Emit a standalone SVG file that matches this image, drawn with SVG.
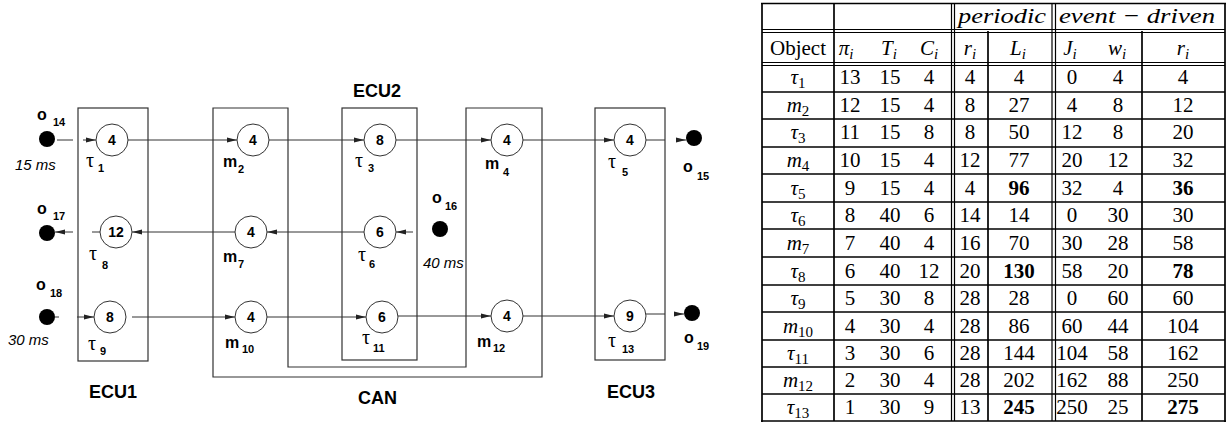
<svg xmlns="http://www.w3.org/2000/svg" width="1228" height="425" viewBox="0 0 1228 425">
<style>
.box{fill:none;stroke:#333;stroke-width:1.2}
.nd circle{fill:#fff;stroke:#333;stroke-width:1}
.num{font:bold 14px "Liberation Sans",Arial,sans-serif;text-anchor:middle}
.lbl{font:bold 16px "Liberation Sans",Arial,sans-serif}
.tau{font:20px "Liberation Serif","DejaVu Serif",serif;font-weight:normal}
.sub{font:bold 11px "Liberation Sans",Arial,sans-serif}
.dot{fill:#000}
.ms{font:italic 15px "Liberation Sans",Arial,sans-serif}
.ecu{font:bold 18px "Liberation Sans",Arial,sans-serif}
.conn line{stroke:#333;stroke-width:1}
.t{font:21px "Liberation Serif","Times New Roman",serif;text-anchor:middle}
.i{font-style:italic}
.s{font-size:15px}
.b{font-weight:bold}
.tl{stroke:#000;stroke-width:1.7}
.td{stroke:#000;stroke-width:1.2}
</style>
<defs>
<marker id="ah" markerUnits="userSpaceOnUse" markerWidth="10" markerHeight="6" refX="10" refY="3" orient="auto">
<path d="M0,0.5 L10,3 L0,5.5 z" fill="#222"/>
</marker>
</defs>
<rect width="1228" height="425" fill="#fff"/>

<!-- boxes -->
<g id="ecu1"><rect class="box" x="78" y="108" width="70" height="253"/><text class="ecu" x="89" y="398">ECU1</text></g>
<g id="can"><path class="box" d="M213,108 H288 V367 H466 V108 H542 V377 H213 Z"/><text class="ecu" x="358" y="404">CAN</text></g>
<g id="ecu2"><rect class="box" x="342" y="108" width="75" height="252"/><text class="ecu" x="353" y="97">ECU2</text></g>
<g id="ecu3"><rect class="box" x="595" y="108" width="70" height="252"/><text class="ecu" x="607" y="398">ECU3</text></g>

<!-- connectors -->
<g id="connectors" class="conn">
<line x1="57" y1="140" x2="73" y2="140"/>
<line x1="83" y1="140" x2="96" y2="140" marker-end="url(#ah)"/>
<line x1="128" y1="140" x2="237" y2="140" marker-end="url(#ah)"/>
<line x1="269" y1="140" x2="364" y2="140" marker-end="url(#ah)"/>
<line x1="396" y1="140" x2="491" y2="140" marker-end="url(#ah)"/>
<line x1="523" y1="140" x2="614" y2="140" marker-end="url(#ah)"/>
<line x1="646" y1="140" x2="665" y2="140"/>
<line x1="676" y1="140" x2="686" y2="140" marker-end="url(#ah)"/>

<line x1="413" y1="232" x2="396" y2="232" marker-end="url(#ah)"/>
<line x1="364" y1="232" x2="267" y2="232" marker-end="url(#ah)"/>
<line x1="235" y1="232" x2="132" y2="232" marker-end="url(#ah)"/>
<line x1="92" y1="232" x2="100" y2="232"/>
<line x1="73" y1="232" x2="55" y2="232" marker-end="url(#ah)"/>

<line x1="55" y1="317" x2="59" y2="317"/>
<line x1="77" y1="317" x2="94" y2="317" marker-end="url(#ah)"/>
<line x1="132" y1="317" x2="235" y2="317" marker-end="url(#ah)"/>
<line x1="267" y1="317" x2="366" y2="317" marker-end="url(#ah)"/>
<line x1="398" y1="316" x2="491" y2="316" marker-end="url(#ah)"/>
<line x1="523" y1="316" x2="614" y2="316" marker-end="url(#ah)"/>
<line x1="646" y1="314" x2="665" y2="314"/>
<line x1="674" y1="314" x2="684" y2="314" marker-end="url(#ah)"/>
</g>

<!-- task / message nodes -->
<g id="tau1" class="nd"><circle cx="112" cy="140" r="16"/><text class="num" x="112" y="145">4</text><text x="86" y="167"><tspan class="tau">τ</tspan><tspan class="sub" x="98" y="172">1</tspan></text></g>
<g id="m2" class="nd"><circle cx="253" cy="140" r="16"/><text class="num" x="253" y="145">4</text><text x="223" y="167"><tspan class="lbl">m</tspan><tspan class="sub" x="238" y="173">2</tspan></text></g>
<g id="tau3" class="nd"><circle cx="380" cy="140" r="16"/><text class="num" x="380" y="145">8</text><text x="355" y="167"><tspan class="tau">τ</tspan><tspan class="sub" x="368" y="172">3</tspan></text></g>
<g id="m4" class="nd"><circle cx="507" cy="140" r="16"/><text class="num" x="507" y="145">4</text><text x="485" y="169"><tspan class="lbl">m</tspan><tspan class="sub" x="503" y="176">4</tspan></text></g>
<g id="tau5" class="nd"><circle cx="630" cy="140" r="16"/><text class="num" x="630" y="145">4</text><text x="608" y="168"><tspan class="tau">τ</tspan><tspan class="sub" x="622" y="176">5</tspan></text></g>

<g id="tau8" class="nd"><circle cx="116" cy="232" r="16"/><text class="num" x="116" y="237">12</text><text x="89" y="260"><tspan class="tau">τ</tspan><tspan class="sub" x="102" y="269">8</tspan></text></g>
<g id="m7" class="nd"><circle cx="251" cy="232" r="16"/><text class="num" x="251" y="237">4</text><text x="223" y="262"><tspan class="lbl">m</tspan><tspan class="sub" x="238" y="268">7</tspan></text></g>
<g id="tau6" class="nd"><circle cx="380" cy="232" r="16"/><text class="num" x="380" y="237">6</text><text x="358" y="261"><tspan class="tau">τ</tspan><tspan class="sub" x="369" y="268">6</tspan></text></g>

<g id="tau9" class="nd"><circle cx="110" cy="317" r="16"/><text class="num" x="110" y="322">8</text><text x="88" y="350"><tspan class="tau">τ</tspan><tspan class="sub" x="100" y="355">9</tspan></text></g>
<g id="m10" class="nd"><circle cx="251" cy="317" r="16"/><text class="num" x="251" y="322">4</text><text x="225" y="348"><tspan class="lbl">m</tspan><tspan class="sub" x="242" y="353">10</tspan></text></g>
<g id="tau11" class="nd"><circle cx="382" cy="317" r="16"/><text class="num" x="382" y="322">6</text><text x="362" y="344"><tspan class="tau">τ</tspan><tspan class="sub" x="373" y="352">11</tspan></text></g>
<g id="m12" class="nd"><circle cx="507" cy="316" r="16"/><text class="num" x="507" y="321">4</text><text x="477" y="347"><tspan class="lbl">m</tspan><tspan class="sub" x="493" y="352">12</tspan></text></g>
<g id="tau13" class="nd"><circle cx="630" cy="316" r="16"/><text class="num" x="630" y="321">9</text><text x="608" y="347"><tspan class="tau">τ</tspan><tspan class="sub" x="622" y="353">13</tspan></text></g>

<!-- event sources / sinks -->
<g id="o14"><circle class="dot" cx="47" cy="139" r="8"/><text x="37" y="120"><tspan class="lbl">o</tspan><tspan class="sub" x="53" y="126">14</tspan></text><text class="ms" x="15" y="170">15 ms</text></g>
<g id="o17"><circle class="dot" cx="47" cy="233" r="8"/><text x="37" y="214"><tspan class="lbl">o</tspan><tspan class="sub" x="53" y="220">17</tspan></text></g>
<g id="o18"><circle class="dot" cx="47" cy="317" r="8"/><text x="36" y="290"><tspan class="lbl">o</tspan><tspan class="sub" x="50" y="297">18</tspan></text><text class="ms" x="8" y="345">30 ms</text></g>
<g id="o16"><circle class="dot" cx="440" cy="229" r="8"/><text x="432" y="203"><tspan class="lbl">o</tspan><tspan class="sub" x="445" y="210">16</tspan></text><text class="ms" x="423" y="268">40 ms</text></g>
<g id="o15"><circle class="dot" cx="694" cy="138" r="8"/><text x="683" y="172"><tspan class="lbl">o</tspan><tspan class="sub" x="697" y="180">15</tspan></text></g>
<g id="o19"><circle class="dot" cx="692" cy="313" r="8"/><text x="684" y="343"><tspan class="lbl">o</tspan><tspan class="sub" x="697" y="350">19</tspan></text></g>

<!-- table -->
<g id="table">
<g id="table-lines">
<line class="tl" x1="761" y1="3.5" x2="1226" y2="3.5"/>
<line class="td" x1="762" y1="29.5" x2="1225" y2="29.5"/>
<line class="td" x1="762" y1="32.5" x2="1225" y2="32.5"/>
<line class="td" x1="762" y1="62.5" x2="1225" y2="62.5"/>
<line class="td" x1="762" y1="65.5" x2="1225" y2="65.5"/>
<line class="tl" x1="762" y1="92" x2="1225" y2="92"/>
<line class="tl" x1="762" y1="119" x2="1225" y2="119"/>
<line class="tl" x1="762" y1="147" x2="1225" y2="147"/>
<line class="tl" x1="762" y1="174" x2="1225" y2="174"/>
<line class="tl" x1="762" y1="202" x2="1225" y2="202"/>
<line class="tl" x1="762" y1="229" x2="1225" y2="229"/>
<line class="tl" x1="762" y1="257" x2="1225" y2="257"/>
<line class="tl" x1="762" y1="285" x2="1225" y2="285"/>
<line class="tl" x1="762" y1="312" x2="1225" y2="312"/>
<line class="tl" x1="762" y1="340" x2="1225" y2="340"/>
<line class="tl" x1="762" y1="367" x2="1225" y2="367"/>
<line class="tl" x1="762" y1="394" x2="1225" y2="394"/>
<line class="tl" x1="761" y1="421" x2="1226" y2="421"/>
<line class="tl" x1="762" y1="3" x2="762" y2="422"/>
<line class="tl" x1="834" y1="3" x2="834" y2="421"/>
<line class="td" x1="951.5" y1="3" x2="951.5" y2="421"/>
<line class="td" x1="954.5" y1="3" x2="954.5" y2="421"/>
<line class="tl" x1="988" y1="31" x2="988" y2="421"/>
<line class="td" x1="1052" y1="3" x2="1052" y2="421"/>
<line class="td" x1="1055.5" y1="3" x2="1055.5" y2="421"/>
<line class="tl" x1="1142" y1="31" x2="1142" y2="421"/>
<line class="tl" x1="1225" y1="3" x2="1225" y2="422"/>
</g>
<g id="table-head" class="t">
<text x="1002" y="23" class="i" font-size="22" textLength="88" lengthAdjust="spacingAndGlyphs">periodic</text>
<text x="1137" y="23" class="i" font-size="22" textLength="156" lengthAdjust="spacingAndGlyphs">event − driven</text>
<text x="798" y="55">Object</text>
<text x="846" y="55"><tspan class="i">π</tspan><tspan class="i s" dy="4">i</tspan></text>
<text x="889" y="55"><tspan class="i">T</tspan><tspan class="i s" dy="4">i</tspan></text>
<text x="929" y="55"><tspan class="i">C</tspan><tspan class="i s" dy="4">i</tspan></text>
<text x="970" y="55"><tspan class="i">r</tspan><tspan class="i s" dy="4">i</tspan></text>
<text x="1018" y="55"><tspan class="i">L</tspan><tspan class="i s" dy="4">i</tspan></text>
<text x="1070" y="55"><tspan class="i">J</tspan><tspan class="i s" dy="4">i</tspan></text>
<text x="1117" y="55"><tspan class="i">w</tspan><tspan class="i s" dy="4">i</tspan></text>
<text x="1183" y="55"><tspan class="i">r</tspan><tspan class="i s" dy="4">i</tspan></text>
</g>
<g id="table-body" class="t">
<text x="798" y="84"><tspan class="i">τ</tspan><tspan class="s" dy="4">1</tspan></text>
<text x="850" y="84">13</text><text x="890" y="84">15</text><text x="929" y="84">4</text><text x="970" y="84">4</text><text x="1019" y="84">4</text><text x="1072" y="84">0</text><text x="1118" y="84">4</text><text x="1183" y="84">4</text>

<text x="798" y="112"><tspan class="i">m</tspan><tspan class="s" dy="4">2</tspan></text>
<text x="850" y="112">12</text><text x="890" y="112">15</text><text x="929" y="112">4</text><text x="970" y="112">8</text><text x="1019" y="112">27</text><text x="1072" y="112">4</text><text x="1118" y="112">8</text><text x="1183" y="112">12</text>

<text x="798" y="139"><tspan class="i">τ</tspan><tspan class="s" dy="4">3</tspan></text>
<text x="850" y="139">11</text><text x="890" y="139">15</text><text x="929" y="139">8</text><text x="970" y="139">8</text><text x="1019" y="139">50</text><text x="1072" y="139">12</text><text x="1118" y="139">8</text><text x="1183" y="139">20</text>

<text x="798" y="167"><tspan class="i">m</tspan><tspan class="s" dy="4">4</tspan></text>
<text x="850" y="167">10</text><text x="890" y="167">15</text><text x="929" y="167">4</text><text x="970" y="167">12</text><text x="1019" y="167">77</text><text x="1072" y="167">20</text><text x="1118" y="167">12</text><text x="1183" y="167">32</text>

<text x="798" y="195"><tspan class="i">τ</tspan><tspan class="s" dy="4">5</tspan></text>
<text x="850" y="195">9</text><text x="890" y="195">15</text><text x="929" y="195">4</text><text x="970" y="195">4</text><text x="1019" y="195" class="b">96</text><text x="1072" y="195">32</text><text x="1118" y="195">4</text><text x="1183" y="195" class="b">36</text>

<text x="798" y="222"><tspan class="i">τ</tspan><tspan class="s" dy="4">6</tspan></text>
<text x="850" y="222">8</text><text x="890" y="222">40</text><text x="929" y="222">6</text><text x="970" y="222">14</text><text x="1019" y="222">14</text><text x="1072" y="222">0</text><text x="1118" y="222">30</text><text x="1183" y="222">30</text>

<text x="798" y="250"><tspan class="i">m</tspan><tspan class="s" dy="4">7</tspan></text>
<text x="850" y="250">7</text><text x="890" y="250">40</text><text x="929" y="250">4</text><text x="970" y="250">16</text><text x="1019" y="250">70</text><text x="1072" y="250">30</text><text x="1118" y="250">28</text><text x="1183" y="250">58</text>

<text x="798" y="278"><tspan class="i">τ</tspan><tspan class="s" dy="4">8</tspan></text>
<text x="850" y="278">6</text><text x="890" y="278">40</text><text x="929" y="278">12</text><text x="970" y="278">20</text><text x="1019" y="278" class="b">130</text><text x="1072" y="278">58</text><text x="1118" y="278">20</text><text x="1183" y="278" class="b">78</text>

<text x="798" y="305"><tspan class="i">τ</tspan><tspan class="s" dy="4">9</tspan></text>
<text x="850" y="305">5</text><text x="890" y="305">30</text><text x="929" y="305">8</text><text x="970" y="305">28</text><text x="1019" y="305">28</text><text x="1072" y="305">0</text><text x="1118" y="305">60</text><text x="1183" y="305">60</text>

<text x="798" y="333"><tspan class="i">m</tspan><tspan class="s" dy="4">10</tspan></text>
<text x="850" y="333">4</text><text x="890" y="333">30</text><text x="929" y="333">4</text><text x="970" y="333">28</text><text x="1019" y="333">86</text><text x="1072" y="333">60</text><text x="1118" y="333">44</text><text x="1183" y="333">104</text>

<text x="798" y="360"><tspan class="i">τ</tspan><tspan class="s" dy="4">11</tspan></text>
<text x="850" y="360">3</text><text x="890" y="360">30</text><text x="929" y="360">6</text><text x="970" y="360">28</text><text x="1019" y="360">144</text><text x="1072" y="360">104</text><text x="1118" y="360">58</text><text x="1183" y="360">162</text>

<text x="798" y="387"><tspan class="i">m</tspan><tspan class="s" dy="4">12</tspan></text>
<text x="850" y="387">2</text><text x="890" y="387">30</text><text x="929" y="387">4</text><text x="970" y="387">28</text><text x="1019" y="387">202</text><text x="1072" y="387">162</text><text x="1118" y="387">88</text><text x="1183" y="387">250</text>

<text x="798" y="414"><tspan class="i">τ</tspan><tspan class="s" dy="4">13</tspan></text>
<text x="850" y="414">1</text><text x="890" y="414">30</text><text x="929" y="414">9</text><text x="970" y="414">13</text><text x="1019" y="414" class="b">245</text><text x="1072" y="414">250</text><text x="1118" y="414">25</text><text x="1183" y="414" class="b">275</text>
</g>
</g>
</svg>
